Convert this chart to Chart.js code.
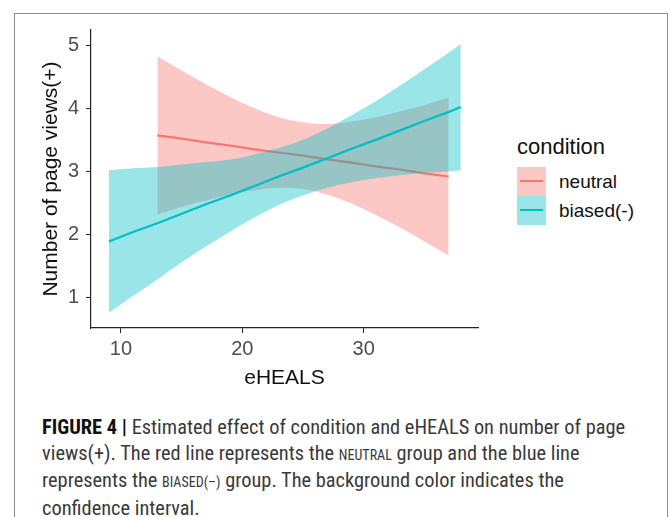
<!DOCTYPE html>
<html>
<head>
<meta charset="utf-8">
<script src="https://cdn.jsdelivr.net/npm/chart.js@4.4.1/dist/chart.umd.min.js"></script>
<style>
  body { margin: 0; background: #fff; width: 670px; height: 517px; overflow: hidden; position: relative; font-family: "Liberation Sans", Arial, sans-serif; }
  #frame { position: absolute; left: 14px; top: 13px; width: 654px; height: 600px; border: 1px solid #8c8c8c; box-sizing: border-box; }
  #wrap { position: absolute; left: 0; top: 0; width: 500px; height: 392px; }
  #legend { position: absolute; left: 517px; top: 131px; }
  #legend .ttl { font-size: 22px; color: #111; height: 32px; line-height: 32px; margin-bottom: 4px; }
  #legend .row { position: relative; height: 29px; }
  #legend .key { position: absolute; left: 0; top: 0; width: 29px; height: 29px; }
  #legend .key i { position: absolute; left: 3px; right: 3px; top: 13px; height: 2px; }
  #legend .lab { position: absolute; left: 42px; top: 0; line-height: 29px; font-size: 19px; color: #111; white-space: nowrap; }
  #caption { position: absolute; left: 42px; top: 415px; font-family: "Liberation Sans Narrow", "Roboto Condensed", "Liberation Sans", sans-serif; font-size: 20.4px; line-height: 25.5px; color: #3a3a3a; white-space: nowrap; }
  #caption b { color: #111; }
  #caption .sc { font-size: 14px; }
</style>
</head>
<body>
<div id="frame"></div>
<div id="wrap"><canvas id="myChart" width="500" height="392"></canvas></div>
<div id="legend"></div>
<div id="caption">
  <b>FIGURE 4 |</b> Estimated effect of condition and eHEALS on number of page<br>
  views(+). The red line represents the <span class="sc">NEUTRAL</span> group and the blue line<br>
  represents the <span class="sc">BIASED(–)</span> group. The background color indicates the<br>
  confidence interval.
</div>
<script>
// series names and colours
const seriesNames = ['neutral', 'biased(-)'];
const lineColors = ['#F8766D', '#00BFC4'];
const bandColors = ['rgba(248, 118, 109, 0.4)', 'rgba(0, 191, 196, 0.4)'];

// neutral group (red)
const xNeutral = [13, 15, 17, 19, 21, 23, 25, 27, 29, 31, 33, 35, 37];
const neutralFit = [3.57, 3.52, 3.46, 3.41, 3.35, 3.30, 3.25, 3.19, 3.14, 3.08, 3.03, 2.97, 2.92];
const neutralUpper = [4.82, 4.60, 4.38, 4.18, 4.00, 3.86, 3.78, 3.75, 3.79, 3.86, 3.95, 4.05, 4.17];
const neutralLower = [2.32, 2.44, 2.54, 2.63, 2.70, 2.74, 2.72, 2.63, 2.49, 2.31, 2.11, 1.89, 1.67];

// biased group (teal)
const xBiased = [9, 11, 13, 15, 17, 19, 21, 23, 25, 27, 29, 31, 33, 35, 37, 38];
const biasedFit = [1.89, 2.04, 2.18, 2.33, 2.48, 2.62, 2.77, 2.92, 3.06, 3.21, 3.36, 3.50, 3.65, 3.80, 3.94, 4.02];
const biasedUpper = [3.02, 3.05, 3.07, 3.11, 3.15, 3.19, 3.27, 3.37, 3.50, 3.68, 3.89, 4.11, 4.36, 4.62, 4.88, 5.02];
const biasedLower = [0.76, 1.03, 1.29, 1.56, 1.81, 2.05, 2.27, 2.47, 2.62, 2.74, 2.83, 2.89, 2.94, 2.98, 3.00, 3.02];

// axes
const xTicks = [10, 20, 30];
const yTicks = [1, 2, 3, 4, 5];
const xTitle = 'eHEALS';
const yTitle = 'Number of page views(+)';
const legendTitle = 'condition';

const pts = (xs, ys) => xs.map((x, i) => ({ x: x, y: ys[i] }));

// band edges are invisible, the upper one fills down to the lower one
const edge = (data, order) => ({
    data: data, order: order, borderWidth: 0, pointRadius: 0, fill: false,
    cubicInterpolationMode: 'monotone'
});

const data = {
    datasets: [
        edge(pts(xNeutral, neutralLower), 6),
        Object.assign(edge(pts(xNeutral, neutralUpper), 5), { fill: '-1', backgroundColor: bandColors[0] }),
        { data: pts(xNeutral, neutralFit), order: 4, borderColor: lineColors[0], borderWidth: 2.2, pointRadius: 0, fill: false },
        edge(pts(xBiased, biasedLower), 3),
        Object.assign(edge(pts(xBiased, biasedUpper), 2), { fill: '-1', backgroundColor: bandColors[1] }),
        { data: pts(xBiased, biasedFit), order: 1, borderColor: lineColors[1], borderWidth: 2.2, pointRadius: 0, fill: false }
    ]
};

const axisColor = '#222';
const tickFont = { family: '"Liberation Sans", Arial, sans-serif', size: 20 };
const titleFont = { family: '"Liberation Sans", Arial, sans-serif', size: 21 };

new Chart(document.getElementById('myChart').getContext('2d'), {
    type: 'line',
    data: data,
    options: {
        responsive: false,
        animation: false,
        devicePixelRatio: 1,
        layout: { padding: { left: 35, top: 30, right: 22, bottom: 0 } },
        plugins: { legend: { display: false }, tooltip: { enabled: false } },
        scales: {
            x: {
                type: 'linear', min: 7.53, max: 39.42,
                afterBuildTicks: (axis) => { axis.ticks = xTicks.map(v => ({ value: v })); },
                afterFit: (axis) => { axis.height = 64; },
                grid: { drawOnChartArea: false, tickLength: 5, color: axisColor },
                border: { color: axisColor, width: 1.2 },
                ticks: { color: '#4d4d4d', font: tickFont, padding: 4, maxRotation: 0 },
                title: { display: true, text: xTitle, color: '#111', font: titleFont, padding: { top: 0, bottom: 1 } }
            },
            y: {
                type: 'linear', min: 0.52, max: 5.24,
                afterBuildTicks: (axis) => { axis.ticks = yTicks.map(v => ({ value: v })); },
                afterFit: (axis) => { axis.width = 56; },
                grid: { drawOnChartArea: false, tickLength: 5, color: axisColor },
                border: { color: axisColor, width: 1.2 },
                ticks: { color: '#4d4d4d', font: tickFont, padding: 7 },
                title: { display: true, text: yTitle, color: '#111', font: titleFont, padding: { top: 4, bottom: 0 } }
            }
        }
    }
});

// legend built from the series names
const legend = document.getElementById('legend');
legend.innerHTML = '<div class="ttl">' + legendTitle + '</div>' + seriesNames.map((name, i) =>
    '<div class="row"><div class="key" style="background:' + bandColors[i] + '"><i style="background:' + lineColors[i] + '"></i></div>' +
    '<div class="lab">' + name + '</div></div>').join('');
</script>
</body>
</html>
